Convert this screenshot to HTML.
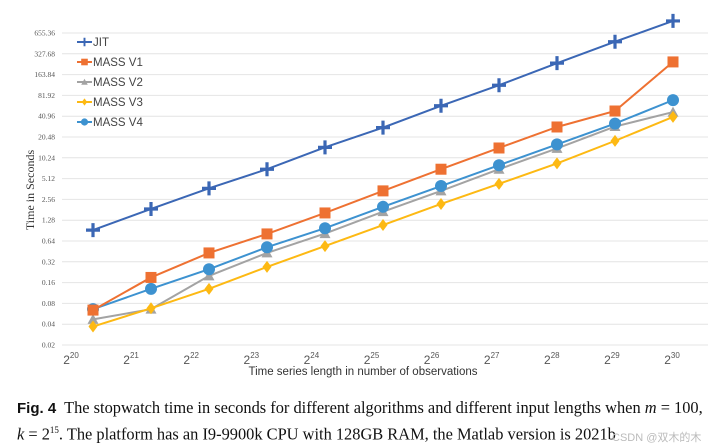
<!DOCTYPE html>
<html><head><meta charset="utf-8"><style>
body{margin:0;background:#fff;width:721px;height:448px;overflow:hidden;font-family:"Liberation Serif",serif}
#cap{position:absolute;left:17px;top:397px;font-size:16.4px;line-height:21.5px;color:#111;white-space:nowrap}
#cap b{font-family:"Liberation Sans",sans-serif;font-size:15px}
#wm{position:absolute;left:612px;top:429px;font-size:11px;color:#bbb;font-family:"Liberation Sans","Noto Sans CJK SC",sans-serif}
</style></head><body>
<svg id="chart" width="721" height="390" style="position:absolute;left:0;top:0" font-family="Liberation Sans, sans-serif"></svg>
<div id="cap"><b>Fig. 4</b>&nbsp; The stopwatch time in seconds for different algorithms and different input lengths when <i>m</i> = 100,<br><i>k</i> = 2<sup style="font-size:9px">15</sup>. The platform has an I9-9900k CPU with 128GB RAM, the Matlab version is 2021b</div>
<div id="wm">CSDN @双木的木</div>
<script>
const categories=[20,21,22,23,24,25,26,27,28,29,30];
const yTicks=["0.02","0.04","0.08","0.16","0.32","0.64","1.28","2.56","5.12","10.24","20.48","40.96","81.92","163.84","327.68","655.36"];
const jit=[0.92,1.86,3.7,7.0,14.5,28,58,115,240,490,980];
const massV1=[0.064,0.19,0.43,0.81,1.63,3.4,7.0,14.2,28.6,48.7,250];
const massV2=[0.047,0.066,0.2,0.43,0.82,1.7,3.4,7,14,29,47];
const massV3=[0.037,0.068,0.13,0.27,0.54,1.09,2.2,4.3,8.5,18,40];
const massV4=[0.066,0.13,0.25,0.52,0.98,2.0,4.0,8.0,16,32,70];
const svg=document.getElementById('chart');const NS='http://www.w3.org/2000/svg';
function mk(t,a,p){const e=document.createElementNS(NS,t);for(const k in a)e.setAttribute(k,a[k]);(p||svg).appendChild(e);return e;}
const y=v=>345-Math.log2(v/0.02)*20.8;
const x=i=>93+(i-20)*58;
const xl=i=>75+(i-20)*60.1;
yTicks.forEach(t=>{const yy=y(parseFloat(t));
const g=mk('line',{x1:62,x2:708,y1:yy,y2:yy,stroke:'#e4e4e4','stroke-width':1});

const tx=mk('text',{x:55,y:yy+2.5,'text-anchor':'end','font-size':7.5,fill:'#555','font-family':'Liberation Serif, serif'});tx.textContent=t;
});
categories.forEach(c=>{const t=mk('text',{x:xl(c)-4,y:364,'text-anchor':'middle','font-size':12,fill:'#555'});

t.textContent='2';const s=mk('tspan',{dy:-6,'font-size':8},t);s.textContent=String(c);});
const xt=mk('text',{x:363,y:375,'text-anchor':'middle','font-size':11.5,fill:'#333'});xt.textContent='Time series length in number of observations';

const yt=mk('text',{x:0,y:0,'text-anchor':'middle','font-size':12,fill:'#333','font-family':'Liberation Serif, serif',transform:'translate(34,190) rotate(-90)'});yt.textContent='Time in Seconds';

function marker(kind,cx,cy,col,g,s){s=s||1;
if(kind==='plus')mk('path',{d:`M${cx-7*s} ${cy}H${cx+7*s}M${cx} ${cy-7*s}V${cy+7*s}`,stroke:col,'stroke-width':3.2*s},g);
else if(kind==='sq')mk('rect',{x:cx-5.5*s,y:cy-5.5*s,width:11*s,height:11*s,fill:col},g);
else if(kind==='tri')mk('path',{d:`M${cx} ${cy-5.5*s}L${cx+5.5*s} ${cy+4.5*s}L${cx-5.5*s} ${cy+4.5*s}Z`,fill:col},g);
else if(kind==='dia')mk('path',{d:`M${cx} ${cy-6*s}L${cx+4.5*s} ${cy}L${cx} ${cy+6*s}L${cx-4.5*s} ${cy}Z`,fill:col},g);
else mk('circle',{cx:cx,cy:cy,r:6*s,fill:col},g);}
const series=[["JIT",jit,'#3b67b5','plus'],["MASS V1",massV1,'#ee7132','sq'],["MASS V2",massV2,'#a3a3a3','tri'],["MASS V3",massV3,'#fdb913','dia'],["MASS V4",massV4,'#3d92d0','circ']];
[2,3,4,1,0].forEach(si=>{const [n,d,c,k]=series[si];
const g=mk('g',{});
mk('polyline',{points:d.map((v,i)=>x(categories[i])+','+y(v)).join(' '),fill:'none',stroke:c,'stroke-width':2},g);
d.forEach((v,i)=>marker(k,x(categories[i]),y(v),c,g));});
series.forEach(([n,d,c,k],i)=>{const ly=42+i*20;const g=mk('g',{});

mk('line',{x1:77,x2:92,y1:ly,y2:ly,stroke:c,'stroke-width':2},g);marker(k,84.5,ly,c,g,0.6);
const t=mk('text',{x:93,y:ly+4,'font-size':11.5,fill:'#444'},g);t.textContent=n;});
</script>
</body></html>
